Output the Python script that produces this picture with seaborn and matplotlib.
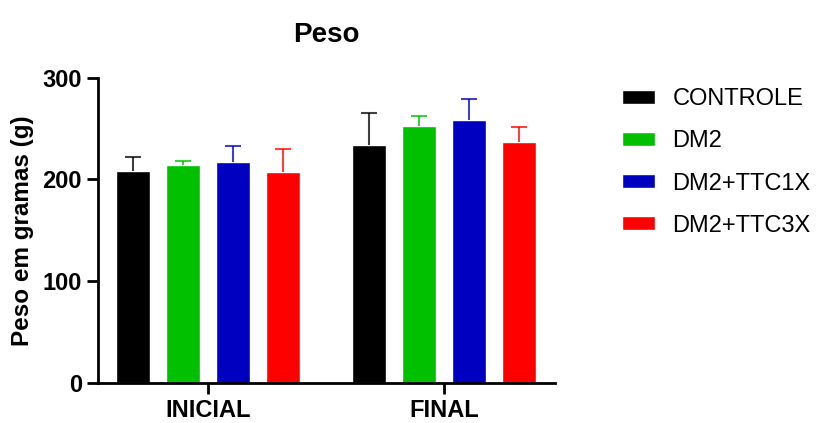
import pandas as pd
import numpy as np
import seaborn as sns
import matplotlib.pyplot as plt

# values
tempos = ["INICIAL", "FINAL"]
grupos = ["CONTROLE", "DM2", "DM2+TTC1X", "DM2+TTC3X"]
media_inicial = [208, 214, 217, 207]
media_final = [234, 253, 259, 237]
dp_inicial = [14, 4, 16, 23]
dp_final = [31, 9, 20, 15]
cores = ["#000000", "#00C000", "#0000C0", "#FF0000"]

df = pd.DataFrame({
    "tempo": np.repeat(tempos, len(grupos)),
    "grupo": grupos * len(tempos),
    "peso": media_inicial + media_final,
    "dp": dp_inicial + dp_final,
})

sns.set_style("ticks")
plt.rcParams["font.family"] = ["Liberation Sans", "DejaVu Sans"]
plt.rcParams["text.color"] = "black"
plt.rcParams["axes.labelcolor"] = "black"
plt.rcParams["xtick.color"] = "black"
plt.rcParams["ytick.color"] = "black"
plt.rcParams["axes.edgecolor"] = "black"

fig = plt.figure(figsize=(8.17, 4.23), dpi=100)
ax = fig.add_axes([0.12, 0.095, 0.559, 0.721])

sns.barplot(data=df, x="tempo", y="peso", hue="grupo", order=tempos,
            hue_order=grupos, palette=cores, errorbar=None,
            width=0.85, gap=0.32, saturation=1, ax=ax)

# only the upper half of the error bars, coloured like the bars
for i, g in enumerate(grupos):
    cont = ax.containers[i]
    sub = df[df.grupo == g].set_index("tempo").loc[tempos]
    xs = [b.get_x() + b.get_width() / 2 for b in cont]
    eb = ax.errorbar(xs, sub["peso"], yerr=[np.zeros(len(xs)), sub["dp"]],
                     fmt="none", ecolor=cores[i], elinewidth=1.5, capsize=6,
                     capthick=1.5, alpha=0.75)
    eb[1][0].set_visible(False)

ax.set_xlim(-0.466, 1.47)
ax.set_ylim(0, 300)
ax.set_yticks([0, 100, 200, 300])
ax.set_xlabel("")
ax.set_ylabel("Peso em gramas (g)", fontsize=17.5, fontweight="bold", labelpad=6)
ax.set_title("Peso", fontsize=20, fontweight="bold", pad=26)
for lab in ax.get_xticklabels() + ax.get_yticklabels():
    lab.set_fontweight("bold")
ax.tick_params(axis="both", labelsize=17, width=2, length=8)
for s in ["left", "bottom"]:
    ax.spines[s].set_linewidth(2)
sns.despine(ax=ax)

leg = ax.legend(loc="upper left", bbox_to_anchor=(1.1, 1.035), frameon=False,
                fontsize=17, handlelength=1.4, handleheight=0.55,
                labelspacing=0.85, handletextpad=0.75)

fig.savefig("out.png", dpi=100)
